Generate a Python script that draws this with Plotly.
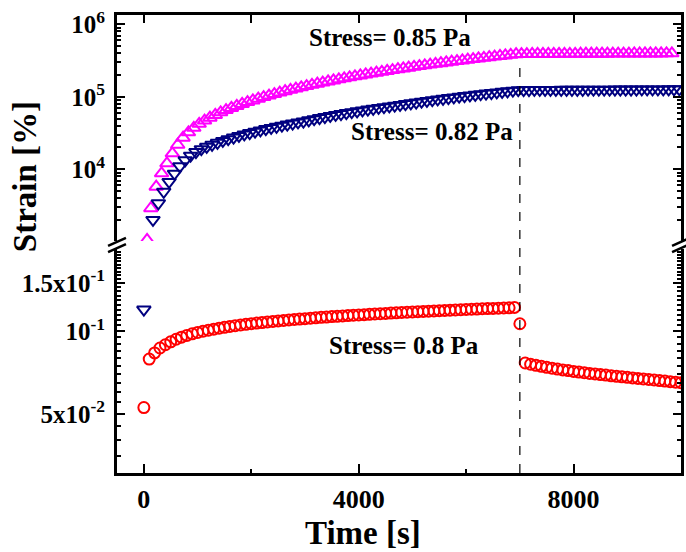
import plotly.graph_objects as go

# ---------------- data ----------------
# 0.8 Pa (red circles): creep 0..6900 s, step at 7000 s, recovery 7100..10000 s
red_t = [0] + list(range(100, 7000, 100)) + [7000] + list(range(7100, 10001, 100))
red_strain = [0.0527,
    0.0792, 0.0834, 0.0869, 0.0893, 0.0915, 0.0935, 0.0952, 0.0966, 0.0979, 0.0990,
    0.1000, 0.1009, 0.1018, 0.1026, 0.1034, 0.1041, 0.1048, 0.1054, 0.1060, 0.1066,
    0.1071, 0.1076, 0.1081, 0.1086, 0.1091, 0.1095, 0.1100, 0.1104, 0.1108, 0.1112,
    0.1116, 0.1120, 0.1124, 0.1127, 0.1131, 0.1134, 0.1138, 0.1141, 0.1144, 0.1147,
    0.1150, 0.1153, 0.1156, 0.1159, 0.1162, 0.1165, 0.1168, 0.1171, 0.1173, 0.1176,
    0.1179, 0.1181, 0.1184, 0.1186, 0.1189, 0.1191, 0.1194, 0.1196, 0.1198, 0.1201,
    0.1203, 0.1205, 0.1208, 0.1210, 0.1212, 0.1214, 0.1216, 0.1218, 0.1222,
    0.1065,
    0.0766, 0.0758, 0.0751, 0.0745, 0.0739, 0.0733, 0.0728, 0.0723, 0.0719, 0.0714,
    0.0710, 0.0706, 0.0702, 0.0699, 0.0695, 0.0692, 0.0688, 0.0685, 0.0682, 0.0679,
    0.0676, 0.0673, 0.0670, 0.0667, 0.0664, 0.0661, 0.0658, 0.0655, 0.0652, 0.0649]

# 0.82 Pa (navy down-triangles)
navy_t = [0] + list(range(170, 10000, 100))
navy_strain = [0.12,
    2000, 3400, 4900, 6700, 8700, 11000, 13300, 15400, 17300, 18900,
    20400, 21800, 23200, 24600, 26000, 27400, 28800, 30200, 31600, 33000,
    34400, 35800, 37200, 38600, 40000, 41400, 42800, 44200, 45600, 47350,
    49100, 50850, 52600, 54350, 56100, 57850, 59600, 61350, 63100, 64850,
    66600, 68350, 70100, 71850, 73600, 75350, 77100, 79200, 81300, 83400,
    85500, 87600, 89700, 91800, 93900, 96000, 98100, 100200, 102300, 104400,
    106500, 108600, 110700, 112800, 114900, 117000, 119100, 121200, 123300,
    123800, 124000, 124100, 124200, 124300, 124400, 124500, 124600, 124700, 124800,
    124900, 125000, 125100, 125200, 125300, 125400, 125500, 125600, 125700, 125800,
    125900, 126000, 126100, 126200, 126300, 126400, 126500, 126600, 126700, 126800]

# 0.85 Pa (magenta up-triangles)
mag_t = [60] + list(range(130, 9900, 100))
mag_strain = [1060,
    2900, 5750, 8800, 12100, 16600, 21800, 27300, 32300, 37300, 42300,
    46900, 51500, 56200, 61000, 65600, 70200, 74900, 79600, 84400, 89200,
    94100, 99000, 104000, 109100, 114200, 119400, 124600, 129900, 135200, 140600,
    146000, 151500, 157000, 162600, 168200, 173900, 179700, 185500, 191300, 197200,
    203100, 209100, 215100, 221200, 227300, 233500, 239700, 246000, 252300, 258600,
    265000, 271400, 277900, 284400, 290900, 297500, 304100, 310700, 317400, 324100,
    330900, 337700, 344500, 351400, 358300, 365300, 372300, 379300, 386400,
    388000, 388500, 389000, 389400, 389800, 390200, 390600, 391000, 391300, 391600,
    391900, 392200, 392500, 392800, 393100, 393400, 393700, 394000, 394300, 394600,
    394900, 395200, 395500, 395800, 396100, 396400, 396700, 397000, 397300]

x_major = [0, 4000, 8000]
x_minor = [2000, 6000]
x_top_ticks = [0, 2000, 4000, 6000, 8000]
low_tickvals = [0.05, 0.1, 0.15]
low_ticktext = ["5x10<sup>-2</sup>", "10<sup>-1</sup>", "1.5x10<sup>-1</sup>"]
high_tickvals = [1e4, 1e5, 1e6]
high_ticktext = ["10<sup>4</sup>", "10<sup>5</sup>", "10<sup>6</sup>"]
step_time = 7000
labels = ["Stress= 0.85 Pa", "Stress= 0.82 Pa", "Stress= 0.8 Pa"]

# ---------------- figure ----------------
FONT = "Liberation Serif"
fig = go.Figure()

def add_series(t, v, symbol, color, size):
    for xa, ya in (("x", "y"), ("x2", "y2")):
        fig.add_trace(go.Scatter(
            x=t, y=v, mode="markers", xaxis=xa, yaxis=ya, cliponaxis=True,
            marker=dict(symbol=symbol, size=size, color=color,
                        line=dict(color=color, width=2)),
            showlegend=False, hoverinfo="skip"))

add_series(mag_t, mag_strain, "triangle-up-open", "#FF00FF", 12)
add_series(navy_t, navy_strain, "triangle-down-open", "#000080", 12)
add_series(red_t, red_strain, "circle-open", "#FF0000", 11)

low_minor = [round(0.030 + 0.005 * i, 3) for i in range(0, 36)]
low_minor = [v for v in low_minor if v not in low_tickvals]
high_minor = [m * 10 ** e for e in (3, 4, 5) for m in range(2, 10)]

tickfont = dict(family=FONT, size=25, color="black", weight="bold")
common_y = dict(type="log", showline=True, linewidth=3, linecolor="black",
                mirror="ticks", ticks="inside", ticklen=8, tickwidth=2.2,
                tickcolor="black", showgrid=False, zeroline=False,
                tickfont=tickfont, ticklabelstandoff=4)

fig.update_layout(
    width=686, height=552,
    margin=dict(l=117, r=2, t=15, b=79),
    paper_bgcolor="white", plot_bgcolor="white",
    font=dict(family=FONT, color="black"),
    xaxis=dict(domain=[0, 1], anchor="y", range=[-500, 10000],
               tickmode="array", tickvals=x_major, ticks="inside", ticklen=9,
               tickwidth=2.2, tickcolor="black", showline=True, linewidth=3,
               linecolor="black", showgrid=False, zeroline=False,
               tickfont=dict(family=FONT, size=26, color="black", weight="bold"),
               ticklabelstandoff=1,
               minor=dict(tickmode="array", tickvals=x_minor, ticks="inside",
                          ticklen=4, tickwidth=2.2, tickcolor="black", showgrid=False)),
    xaxis2=dict(domain=[0, 1], anchor="y2", side="top", matches="x",
                range=[-500, 10000], tickmode="array", tickvals=x_top_ticks,
                ticks="inside", ticklen=8, tickwidth=2.2, tickcolor="black",
                showticklabels=False, showline=True, linewidth=3,
                linecolor="black", showgrid=False, zeroline=False),
    yaxis=dict(domain=[0, 0.489], anchor="x", range=[-1.517, -0.70],
               tickmode="array", tickvals=low_tickvals, ticktext=low_ticktext,
               minor=dict(tickmode="array", tickvals=low_minor, ticks="inside",
                          ticklen=4, tickwidth=2, tickcolor="black", showgrid=False),
               **common_y),
    yaxis2=dict(domain=[0.5066, 1], anchor="x2", range=[3.011, 6.128],
                tickmode="array", tickvals=high_tickvals, ticktext=high_ticktext,
                minor=dict(tickmode="array", tickvals=high_minor, ticks="inside",
                           ticklen=4, tickwidth=2, tickcolor="black", showgrid=False),
                **common_y),
)

# dashed line at the stress removal time
fig.add_shape(type="line", xref="x", yref="paper", x0=step_time, x1=step_time,
              y0=0, y1=0.902, line=dict(color="black", width=1.2, dash="dash"))

# axis break marks
dx, dy, off, yc = 9 / 567, 4 / 458, 3.2 / 458, 0.4978
for xc in (0, 1):
    for o in (-off, off):
        fig.add_shape(type="line", xref="paper", yref="paper",
                      x0=xc - dx, y0=yc + o - dy, x1=xc + dx, y1=yc + o + dy,
                      line=dict(color="black", width=2.5))

# series labels
lab_font = dict(family=FONT, size=25, color="black", weight="bold")
for txt, xv, yv in zip(labels, [4589, 5367, 4848], [0.950, 0.7467, 0.2773]):
    fig.add_annotation(text=txt, x=xv, y=yv, xref="x", yref="paper",
                       showarrow=False, font=lab_font, xanchor="center", yanchor="middle")

# axis titles
title_font = dict(family=FONT, size=33, color="black", weight="bold")
fig.add_annotation(text="Strain [%]", x=-0.163, y=0.646, xref="paper", yref="paper",
                   textangle=-90, showarrow=False, font=title_font,
                   xanchor="center", yanchor="middle")
fig.add_annotation(text="Time [s]", x=0.437, y=-0.131, xref="paper", yref="paper",
                   showarrow=False, font=title_font, xanchor="center", yanchor="middle")

fig.write_html("out.html", config={"displayModeBar": False},
               post_script="document.body.style.margin='0px';")
